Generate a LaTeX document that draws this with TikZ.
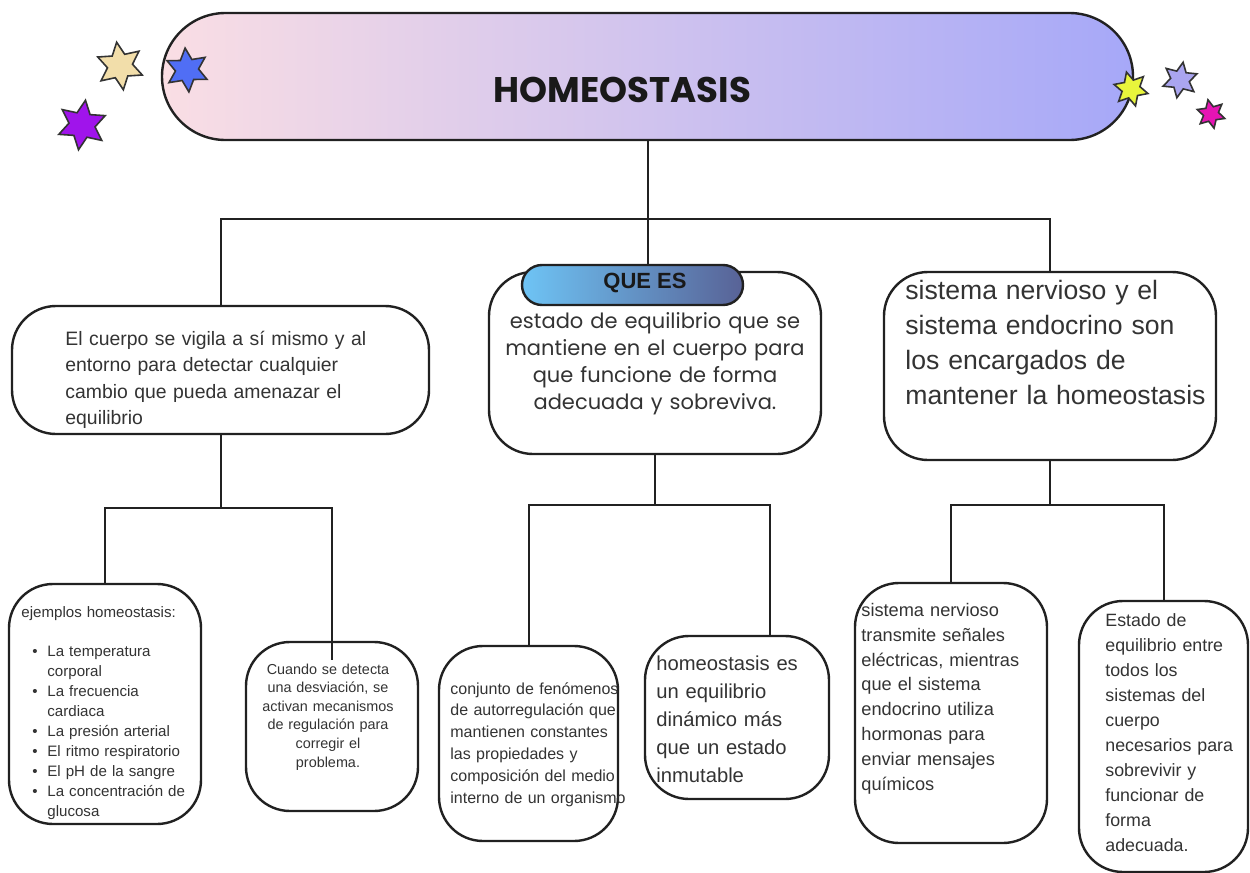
\documentclass[tikz,border=0pt]{standalone}
\usepackage{fontspec}
\setmainfont{Liberation Sans}
\newfontfamily\pop{Poppins}
\usetikzlibrary{shapes.geometric}
\definecolor{ink}{rgb}{0.13,0.13,0.13}
\definecolor{tink}{rgb}{0.2,0.2,0.2}
\definecolor{tL}{RGB}{250,222,228}
\definecolor{tR}{RGB}{166,168,248}
\definecolor{qL}{RGB}{110,196,245}
\definecolor{qR}{RGB}{88,98,150}
\definecolor{sCream}{RGB}{242,222,170}
\definecolor{sPurple}{RGB}{160,20,235}
\definecolor{sBlue}{RGB}{80,110,245}
\definecolor{sYellow}{RGB}{232,245,60}
\definecolor{sLav}{RGB}{170,165,240}
\definecolor{sMag}{RGB}{230,20,180}
\tikzset{
  box/.style={draw=ink, line width=1.2pt, rounded corners=22pt, fill=white, inner sep=0pt},
  conn/.style={draw=ink, line width=1pt},
  tl/.style={inner sep=0pt, anchor=base west, align=left, text width=#1, text=tink},
  tc/.style={inner sep=0pt, anchor=base, align=center, text width=#1, text=tink},
  starry/.style={star, star points=6, star point ratio=1.9, inner sep=0pt, draw=black!80, line width=0.8pt}
}
\begin{document}
\begin{tikzpicture}[x=0.5pt, y=-0.5pt]
\fill[white] (0,0) rectangle (1250,873);
\useasboundingbox (0,0) rectangle (1250,873);

% title
\node[draw=ink, line width=1.2pt, inner sep=0pt, rounded corners=31.75pt,
      minimum width=485.5pt, minimum height=63.5pt, left color=tL, right color=tR]
      (title) at (647.5,76.5) {};
\node[inner sep=0pt, font=\pop\bfseries\fontsize{17.8}{21}\selectfont, text=black!90] (ttext) at (622.5,90) {HOMEOSTASIS};

% boxes
\node[box, minimum width=208.5pt, minimum height=64pt] (b1) at (220.5,370) {};
\node[box, minimum width=166pt, minimum height=91pt] (b2) at (655,363) {};
\node[box, minimum width=166pt, minimum height=94pt] (b3) at (1050,366) {};
\node[draw=ink, line width=1.2pt, inner sep=0pt, rounded corners=10pt,
      minimum width=110.5pt, minimum height=20pt, left color=qL, right color=qR] (qe) at (632.5,285) {};
\node[box, minimum width=96pt, minimum height=120pt] (ej) at (105,704) {};
\node[box, minimum width=86pt, minimum height=84.5pt] (cu) at (332,726.5) {};
\node[box, minimum width=89.5pt, minimum height=97.5pt] (cj) at (528.5,743.5) {};
\node[box, minimum width=92pt, minimum height=81.5pt] (ho) at (737,717.5) {};
\node[box, minimum width=96pt, minimum height=130pt] (sn) at (951,713) {};
\node[box, minimum width=84.5pt, minimum height=135.5pt] (ed) at (1163.5,736.5) {};

% connectors
\coordinate (hub) at (647.5,219);
\coordinate (j1) at (220.5,508);
\coordinate (j2) at (655,505);
\coordinate (j3) at (1050,505);
\coordinate (cuIn) at (332,660);
\coordinate (hoTop) at (770,636);
\draw[conn] (title.south) -- (title.south |- qe.north);
\draw[conn] (b1.north) |- (hub) -| (b3.north);
\draw[conn] (b1.south) -- (j1);
\draw[conn] (ej.north) |- (j1) -| (cuIn);
\draw[conn] (b2.south) -- (j2);
\draw[conn] (cj.north) |- (j2) -| (hoTop);
\draw[conn] (b3.south) -- (j3);
\draw[conn] (sn.north) |- (j3) -| (ed.north);

% texts
\node[inner sep=0pt, font=\bfseries\fontsize{11}{13}\selectfont, text=black!90] (qtext) at (645,283) {QUE ES};

\node[tl=200pt, font=\fontsize{9.7}{13.3}\selectfont] (t1) at (65,345)
 {El cuerpo se vigila a sí mismo y al\\entorno para detectar cualquier\\cambio que pueda amenazar el\\equilibrio};

\node[tc=170pt, font=\pop\fontsize{10.5}{13.6}\selectfont] (t2) at (655,328)
 {estado de equilibrio que se\\mantiene en el cuerpo para\\que funcione de forma\\adecuada y sobreviva.};

\node[tl=170pt, font=\fontsize{13.3}{17.5}\selectfont] (t3) at (905,299)
 {sistema nervioso y el\\sistema endocrino son\\los encargados de\\mantener la homeostasis};

\node[tl=95pt, font=\fontsize{7.55}{10.05}\selectfont] (t4h) at (21,617) {ejemplos homeostasis:};
\node[tl=95pt, font=\fontsize{7.55}{10.05}\selectfont] (t4) at (32,656)
 {\makebox[7.5pt][l]{\textbullet}La temperatura\\
  \hspace*{7.5pt}corporal\\
  \makebox[7.5pt][l]{\textbullet}La frecuencia\\
  \hspace*{7.5pt}cardiaca\\
  \makebox[7.5pt][l]{\textbullet}La presión arterial\\
  \makebox[7.5pt][l]{\textbullet}El ritmo respiratorio\\
  \makebox[7.5pt][l]{\textbullet}El pH de la sangre\\
  \makebox[7.5pt][l]{\textbullet}La concentración de\\
  \hspace*{7.5pt}glucosa};

\node[tc=85pt, font=\fontsize{7.2}{9.3}\selectfont] (t5) at (328,674)
 {Cuando se detecta\\una desviación, se\\activan mecanismos\\de regulación para\\corregir el\\problema.};

\node[tl=95pt, font=\fontsize{8}{10.9}\selectfont] (t6) at (450,694)
 {conjunto de fenómenos\\de autorregulación que\\mantienen constantes\\las propiedades y\\composición del medio\\interno de un organismo};

\node[tl=95pt, font=\fontsize{10.1}{14.1}\selectfont] (t7) at (656,670)
 {homeostasis es\\un equilibrio\\dinámico más\\que un estado\\inmutable};

\node[tl=95pt, font=\fontsize{9.1}{12.4}\selectfont] (t8) at (861,616.5)
 {sistema nervioso\\transmite señales\\eléctricas, mientras\\que el sistema\\endocrino utiliza\\hormonas para\\enviar mensajes\\químicos};

\node[tl=80pt, font=\fontsize{8.9}{12.5}\selectfont] (t9) at (1105,626)
 {Estado de\\equilibrio entre\\todos los\\sistemas del\\cuerpo\\necesarios para\\sobrevivir y\\funcionar de\\forma\\adecuada.};

% stars
\node[starry, fill=sCream, minimum size=24pt, rotate=8] (s1) at (120,66) {};
\node[starry, fill=sPurple, minimum size=25pt, rotate=-8] (s2) at (82,125) {};
\node[starry, fill=sBlue, minimum size=22pt, rotate=5] (s3) at (187,70) {};
\node[starry, fill=sYellow, minimum size=17.5pt, rotate=15] (s4) at (1131,89) {};
\node[starry, fill=sLav, minimum size=18pt, rotate=-10] (s5) at (1180,80) {};
\node[starry, fill=sMag, minimum size=14.5pt, rotate=12] (s6) at (1211,114) {};
\end{tikzpicture}
\end{document}
